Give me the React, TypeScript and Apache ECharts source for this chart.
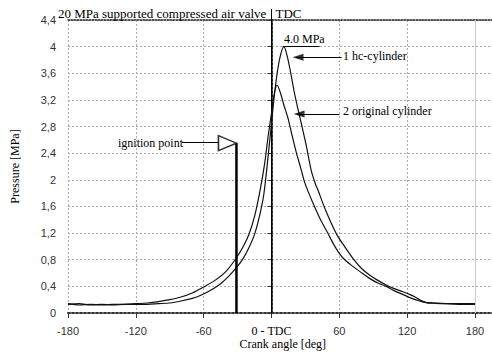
import React, { useEffect, useRef } from 'react';
import * as echarts from 'echarts';

// crank angle [deg] and pressure [MPa] for "2 original cylinder"
const angleOriginal = [-180, -170, -160, -150, -140, -130, -120, -110, -100, -90, -80, -70, -60, -50, -40, -31, -25, -20, -15, -10, -6, -3, 0, 2.5, 5, 8, 11, 14.7, 18, 21.8, 26.3, 29.2, 33, 38, 44, 49.8, 56, 63, 72, 80, 86.7, 94, 101.5, 108, 116, 124, 131, 137, 145, 155, 165, 180];
const pressureOriginal = [0.14, 0.12, 0.13, 0.12, 0.13, 0.13, 0.14, 0.15, 0.17, 0.2, 0.24, 0.3, 0.39, 0.49, 0.63, 0.83, 1.0, 1.18, 1.45, 1.85, 2.25, 2.65, 3.0, 3.3, 3.42, 3.3, 3.12, 2.92, 2.68, 2.42, 2.15, 1.97, 1.8, 1.6, 1.38, 1.2, 1.0, 0.83, 0.7, 0.6, 0.52, 0.45, 0.4, 0.34, 0.28, 0.22, 0.18, 0.155, 0.15, 0.14, 0.13, 0.13];

// crank angle [deg] and pressure [MPa] for "1 hc-cylinder"
const angleHc = [-180, -170, -160, -150, -140, -130, -120, -110, -100, -90, -80, -70, -64, -55, -45, -38, -31, -25, -20, -15, -10, -6.8, -3.3, 0, 3.3, 7, 11, 14, 17.4, 20, 23.3, 27, 30.7, 35, 39, 41, 47, 52.8, 58, 64.6, 72, 79, 86.7, 94, 101.5, 108, 116, 122, 127, 131, 137, 145, 155, 165, 180];
const pressureHc = [0.13, 0.14, 0.12, 0.13, 0.12, 0.13, 0.13, 0.13, 0.14, 0.15, 0.18, 0.22, 0.255, 0.33, 0.44, 0.55, 0.68, 0.82, 0.98, 1.18, 1.5, 1.78, 2.3, 2.85, 3.38, 3.8, 4.0, 3.85, 3.57, 3.33, 3.07, 2.8, 2.52, 2.15, 1.93, 1.85, 1.58, 1.35, 1.17, 1.0, 0.82, 0.68, 0.57, 0.49, 0.42, 0.37, 0.32, 0.28, 0.24, 0.2, 0.155, 0.145, 0.14, 0.14, 0.14];

const ignitionAngle = -31;
const ignitionMarkPressure = 2.55;
const peakLabel = '4.0 MPa';

const SERIF = '"Liberation Serif", "Times New Roman", serif';
const SANS = '"Liberation Sans", Arial, sans-serif';

export default function App() {
  const ref = useRef<HTMLDivElement>(null);
  useEffect(() => {
    if (!ref.current) return;
    const chart = echarts.init(ref.current, null, { renderer: 'svg' });
    const toPairs = (xs: number[], ys: number[]) => xs.map((x, i) => [x, ys[i]]);
    const option: any = {
      animation: false,
      backgroundColor: '#fff',
      grid: { left: 68, top: 20, width: 429.6, height: 293, outerBoundsMode: 'none', containLabel: false },
      xAxis: [
        {
          type: 'value',
          min: -180,
          max: 200,
          interval: 60,
          name: 'Crank angle [deg]',
          nameLocation: 'middle',
          nameGap: 25,
          nameMoveOverlap: false,
          nameTextStyle: { fontFamily: SERIF, fontSize: 12, color: '#000' },
          axisLine: { show: true, lineStyle: { color: '#333', width: 2, type: 'dotted' } },
          axisTick: { show: true, length: 5, lineStyle: { color: '#333' } },
          axisLabel: {
            margin: 12,
            fontFamily: SANS,
            fontSize: 11,
            color: '#333',
            showMaxLabel: false,
            formatter: (v: number) => (v === 0 ? '{s|0 - TDC}' : v % 60 === 0 ? String(v) : ''),
            rich: { s: { fontFamily: SERIF, fontSize: 12, color: '#000' } },
          },
          splitLine: { show: true, lineStyle: { color: '#aaa', type: [2, 2], width: 1 } },
        },
        {
          type: 'value',
          position: 'top',
          min: -180,
          max: 200,
          interval: 60,
          axisLine: { show: true, lineStyle: { color: '#222', width: 1.5, type: 'dotted' } },
          axisTick: { show: false },
          axisLabel: { show: false },
          splitLine: { show: false },
        },
      ],
      yAxis: {
        type: 'value',
        min: 0,
        max: 4.4,
        interval: 0.4,
        name: 'Pressure [MPa]',
        nameLocation: 'middle',
        nameGap: 47,
        nameMoveOverlap: false,
        nameTextStyle: { fontFamily: SERIF, fontSize: 12, color: '#000' },
        axisLine: { show: true, lineStyle: { color: '#222', width: 2, type: 'dotted' } },
        axisTick: { show: true, length: 4, lineStyle: { color: '#333' } },
        axisLabel: {
          margin: 12,
          fontFamily: SANS,
          fontSize: 11,
          color: '#333',
          formatter: (v: number) => String(Math.round(v * 10) / 10).replace('.', ','),
        },
        splitLine: { show: true, lineStyle: { color: '#aaa', type: [2, 2], width: 1 } },
      },
      series: [
        {
          name: '2 original cylinder',
          type: 'line',
          data: toPairs(angleOriginal, pressureOriginal),
          symbol: 'none',
          smooth: 0.3,
          lineStyle: { color: '#111', width: 1.2 },
          z: 5,
          markLine: {
            silent: true,
            symbol: ['none', 'none'],
            label: { show: false },
            data: [
              { xAxis: 180, lineStyle: { color: '#ccc', width: 1, type: 'solid' } },
              { xAxis: 0, lineStyle: { color: '#000', width: 1, type: 'solid' } },
            ],
          },
        },
        {
          name: '1 hc-cylinder',
          type: 'line',
          data: toPairs(angleHc, pressureHc),
          symbol: 'none',
          smooth: 0.3,
          lineStyle: { color: '#111', width: 1.2 },
          z: 5,
          markLine: {
            silent: true,
            symbol: ['none', 'none'],
            label: { show: false },
            lineStyle: { color: '#000', width: 1, type: 'solid' },
            data: [
              [{ coord: [62, 3.84] }, { coord: [22, 3.84] }],
              [{ coord: [60, 2.99] }, { coord: [23, 2.99] }],
              [{ coord: [ignitionAngle - 48, ignitionMarkPressure + 0.01] }, { coord: [ignitionAngle - 16, ignitionMarkPressure + 0.01] }],
              [{ coord: [10, 4.01] }, { coord: [42.5, 4.01] }],
            ],
          },
        },
        {
          name: 'arrowheads',
          type: 'scatter',
          data: [[18.6, 3.84], [19.5, 2.99]],
          symbol: 'path://M0,4 L12,0 L12,8 Z',
          symbolSize: [11, 7],
          symbolOffset: [5.5, 0],
          itemStyle: { color: '#000' },
          z: 8,
        },
        {
          name: 'ignition',
          type: 'line',
          data: [[ignitionAngle, 0], [ignitionAngle, ignitionMarkPressure]],
          symbol: 'none',
          lineStyle: { color: '#000', width: 2.5 },
          z: 6,
        },
        {
          name: 'ignition marker',
          type: 'scatter',
          data: [[ignitionAngle, ignitionMarkPressure]],
          symbol: 'path://M0,0 L18,7.5 L0,15 Z',
          symbolSize: [18, 15],
          symbolOffset: [-9, 0],
          itemStyle: { color: '#fff', borderColor: '#000', borderWidth: 1.5 },
          z: 7,
        },
      ],
    };
    chart.setOption(option);
    const tdc = chart.convertToPixel({ xAxisIndex: 0 }, 0) as number;
    chart.setOption({
      graphic: [
        { type: 'line', shape: { x1: tdc, y1: 9, x2: tdc, y2: 20 }, style: { stroke: '#000', lineWidth: 1 }, z: 10 },
        { type: 'text', left: 58, top: 7, style: { text: '20 MPa supported compressed air valve', font: `13px ${SERIF}`, fill: '#000' }, z: 1 },
        { type: 'text', x: tdc + 4, y: 7, style: { text: 'TDC', font: `13px ${SERIF}`, fill: '#000' }, z: 1 },
        { type: 'text', x: 284, y: 39, style: { text: peakLabel, font: `12px ${SERIF}`, fill: '#000', verticalAlign: 'middle' }, z: 10 },
        { type: 'text', x: 343, y: 56, style: { text: '1 hc-cylinder', font: `12px ${SERIF}`, fill: '#000', verticalAlign: 'middle' }, z: 10 },
        { type: 'text', x: 343, y: 111, style: { text: '2 original cylinder', font: `12px ${SERIF}`, fill: '#000', verticalAlign: 'middle' }, z: 10 },
        { type: 'text', x: 183, y: 143, style: { text: 'ignition point', font: `12px ${SERIF}`, fill: '#000', verticalAlign: 'middle', align: 'right' }, z: 10 },
      ],
    });
    return () => chart.dispose();
  }, []);
  return <div ref={ref} style={{ position: 'absolute', left: 0, top: 0, width: 492, height: 353 }} />;
}
